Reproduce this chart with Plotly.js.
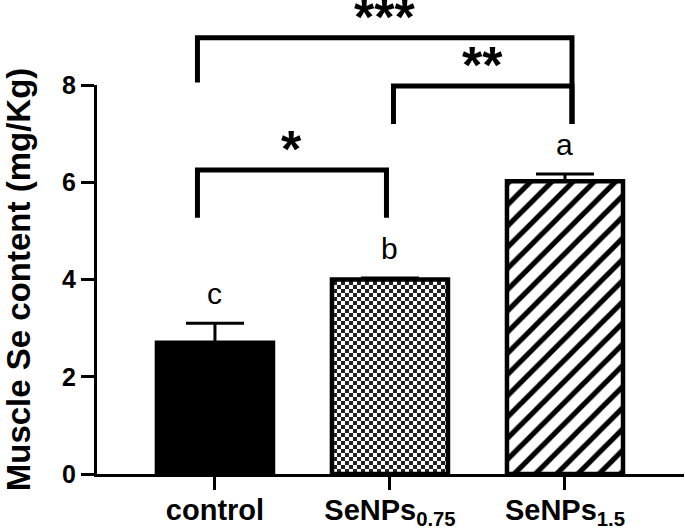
<!DOCTYPE html>
<html>
<head>
<meta charset="utf-8">
<script src="https://cdn.plot.ly/plotly-3.0.1.min.js"></script>
<style>html,body{margin:0;padding:0;background:#fff;}#chart{width:685px;height:531px;}</style>
</head>
<body>
<div id="chart"></div>
<script>
// ---- data ----
var categories = ['control', 'SeNPs0.75', 'SeNPs1.5'];
var tickLabels = ['control', 'SeNPs<sub>0.75</sub>', 'SeNPs<sub>1.5</sub>'];
var means = [2.7, 4.0, 6.02];
var sem = [0.4, 0.03, 0.15];
var letters = ['c', 'b', 'a'];
var patternShapes = ['', '.', '/'];

// significance brackets (category index for ends, y in data units)
var brLeft = [0, 1, 0];
var brRight = [1, 2, 2];
var brLeftOffset = [-0.1, 0.02, -0.1];
var brRightOffset = [-0.02, 0.04, 0.04];
var brTop = [6.25, 7.98, 8.97];
var brLeftBottom = [5.27, 7.2, 8.05];
var brRightBottom = [5.27, 7.2, 7.2];
var brLabel = ['*', '**', '***'];

var FONT = 'Liberation Sans, Arial, sans-serif';
var YMAX = 8;

var fills = ['#000', '#fff', '#fff'];
var patSize = [8, 8, 15];
var patSolidity = [0.5, 0.5, 0.35];

var traces = [];
for (var k = 0; k < categories.length; k++) {
  var m = {
    color: fills[k],
    line: {color: '#000', width: 4.5}
  };
  if (patternShapes[k]) {
    m.pattern = {shape: patternShapes[k], fgcolor: '#000', bgcolor: '#fff',
      size: patSize[k], solidity: patSolidity[k]};
  }
  traces.push({
    type: 'bar',
    x: [categories[k]],
    y: [means[k]],
    width: 0.663,
    marker: m,
    error_y: {
      type: 'data', symmetric: false, array: [sem[k]], arrayminus: [0],
      color: '#000', thickness: 3, width: 29
    },
    hoverinfo: 'none'
  });
}

var shapes = [];
var annotations = [];
for (var i = 0; i < brLabel.length; i++) {
  var xl = brLeft[i] + brLeftOffset[i];
  var xr = brRight[i] + brRightOffset[i];
  var path = 'M ' + xl + ' ' + (brLeftBottom[i] / YMAX) +
             ' L ' + xl + ' ' + (brTop[i] / YMAX) +
             ' L ' + xr + ' ' + (brTop[i] / YMAX) +
             ' L ' + xr + ' ' + (brRightBottom[i] / YMAX);
  shapes.push({type: 'path', xref: 'x', yref: 'paper', path: path,
    line: {color: '#000', width: 5}});
  annotations.push({xref: 'x', yref: 'paper', x: (xl + xr) / 2, y: (brTop[i] - 0.2) / YMAX,
    text: brLabel[i], showarrow: false, yanchor: 'bottom',
    font: {family: FONT, size: 52, color: '#000', weight: 'bold'}});
}
for (var j = 0; j < letters.length; j++) {
  annotations.push({xref: 'x', yref: 'y', x: j, y: means[j] + sem[j] + 0.23,
    text: letters[j], showarrow: false, yanchor: 'bottom',
    font: {family: FONT, size: 30, color: '#000'}});
}

var layout = {
  width: 685, height: 531,
  margin: {l: 97, r: 1, t: 85, b: 57},
  paper_bgcolor: '#fff', plot_bgcolor: '#fff',
  showlegend: false,
  barmode: 'overlay',
  font: {family: FONT, color: '#000'},
  xaxis: {
    range: [-0.674, 2.68],
    tickvals: categories, ticktext: tickLabels,
    showline: true, linecolor: '#000', linewidth: 3,
    ticks: 'outside', ticklen: 13, tickwidth: 3, tickcolor: '#000',
    ticklabelstandoff: -5,
    showgrid: false, zeroline: false,
    tickfont: {family: FONT, size: 29, color: '#000', weight: 'bold'}
  },
  yaxis: {
    range: [0, YMAX],
    tickvals: [0, 2, 4, 6, 8],
    showline: true, linecolor: '#000', linewidth: 3,
    ticks: 'outside', ticklen: 13, tickwidth: 3, tickcolor: '#000',
    showgrid: false, zeroline: false,
    tickfont: {family: FONT, size: 25, color: '#000', weight: 'bold'},
    title: {text: 'Muscle Se content (mg/Kg)', standoff: 26,
      font: {family: FONT, size: 33, color: '#000', weight: 'bold'}}
  },
  shapes: shapes,
  annotations: annotations
};

Plotly.newPlot('chart', traces, layout, {displayModeBar: false, staticPlot: true}).then(function () {
  // turn the dot pattern of the middle bar into a checkerboard
  var pats = document.querySelectorAll('#chart pattern');
  pats.forEach(function (p) {
    var c = p.querySelector('circle');
    if (!c) return;
    var s = parseFloat(p.getAttribute('width'));
    var h = s / 2;
    var ns = 'http://www.w3.org/2000/svg';
    while (p.firstChild) p.removeChild(p.firstChild);
    var bg = document.createElementNS(ns, 'rect');
    bg.setAttribute('x', 0); bg.setAttribute('y', 0);
    bg.setAttribute('width', s); bg.setAttribute('height', s);
    bg.setAttribute('fill', '#fff');
    p.appendChild(bg);
    [[0, 0], [h, h]].forEach(function (o) {
      var r = document.createElementNS(ns, 'rect');
      r.setAttribute('x', o[0]); r.setAttribute('y', o[1]);
      r.setAttribute('width', h); r.setAttribute('height', h);
      r.setAttribute('fill', '#222');
      p.appendChild(r);
    });
  });
});
</script>
</body>
</html>
